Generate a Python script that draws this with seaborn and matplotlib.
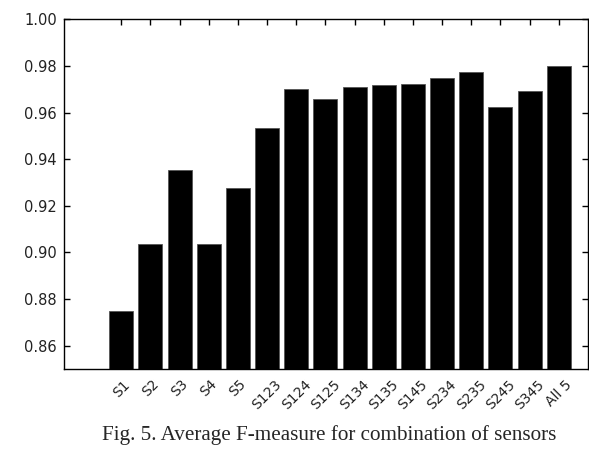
import matplotlib
matplotlib.use("Agg")
import matplotlib.pyplot as plt
import seaborn as sns

# sensor combinations and their average F-measure
combos = ['S1', 'S2', 'S3', 'S4', 'S5', 'S123', 'S124', 'S125', 'S134',
          'S135', 'S145', 'S234', 'S235', 'S245', 'S345', 'All 5']
f_measure = [0.875, 0.9036, 0.9354, 0.9036, 0.9276, 0.9536, 0.9703, 0.9657,
             0.9710, 0.9717, 0.9725, 0.9750, 0.9776, 0.9623, 0.9694, 0.9801]
y_ticks = [0.86, 0.88, 0.90, 0.92, 0.94, 0.96, 0.98, 1.00]

sns.set_style('ticks')
plt.rcParams['font.family'] = ['DejaVu Sans']
plt.rcParams['xtick.direction'] = 'in'
plt.rcParams['ytick.direction'] = 'in'

fig = plt.figure(figsize=(5.89, 4.63), dpi=100)
ax = fig.add_axes([0.1087, 0.203, 0.889, 0.755])

sns.barplot(x=combos, y=f_measure, color='black', saturation=1,
            width=0.82, edgecolor='#555555', linewidth=0.6, ax=ax)

ax.set_xlim(-1.96, 15.99)
ax.set_ylim(0.85, 1.00)
ax.set_yticks(y_ticks)
ax.set_yticklabels([f'{v:.2f}' for v in y_ticks])
ax.tick_params(axis='both', which='major', length=4, width=1, color='black',
               labelcolor='#222222', top=True, right=True)
ax.tick_params(axis='y', labelsize=10.5, pad=5)
ax.tick_params(axis='x', labelsize=10, pad=6)
plt.setp(ax.get_xticklabels(), rotation=45, ha='center')
for side in ax.spines.values():
    side.set_visible(True)
    side.set_color('black')
    side.set_linewidth(1)

fig.text(0.559, 0.06, 'Fig. 5. Average F-measure for combination of sensors',
         ha='center', va='center', fontsize=15.2, family='Liberation Serif')

fig.savefig('out.png', dpi=100)
plt.close(fig)
